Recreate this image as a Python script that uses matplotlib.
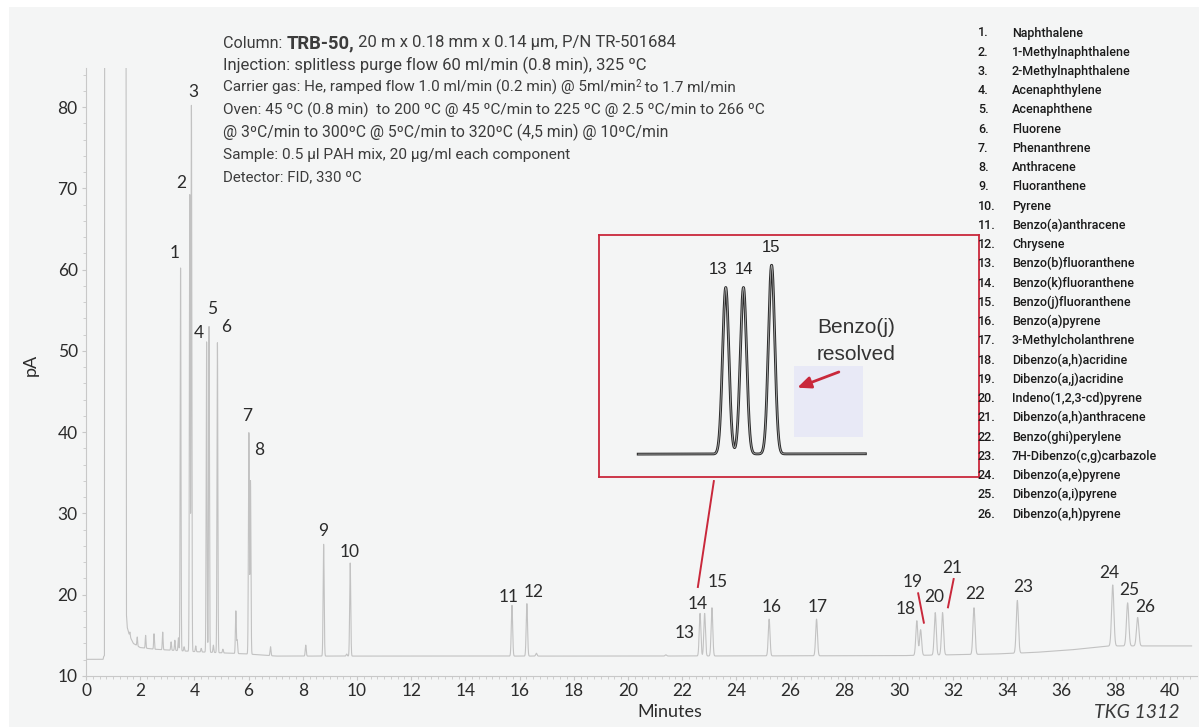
import numpy as np
import matplotlib.pyplot as plt
from matplotlib.patches import Rectangle

W, H = 1199, 727

# ---- data ----
peak_no = list(range(1, 27))
peak_time = [3.49, 3.83, 3.89, 4.45, 4.54, 4.85, 6.01, 6.07, 8.77, 9.75,
             15.72, 16.27, 22.66, 22.83, 23.10, 25.21, 26.96, 30.66, 30.80,
             31.34, 31.61, 32.77, 34.37, 37.89, 38.44, 38.81]
peak_top = [60.2, 69.2, 80.2, 51.1, 53.0, 51.0, 39.9, 34.0, 26.2, 23.9,
            18.7, 18.9, 17.7, 17.7, 18.4, 17.0, 17.0, 16.8, 15.7,
            17.8, 17.8, 18.4, 19.3, 21.2, 19.0, 17.2]

# small unnumbered peaks
minor_time = [1.62, 1.89, 2.20, 2.51, 2.83, 3.14, 3.28, 3.41, 3.62, 4.05,
              4.25, 4.70, 5.05, 5.53, 5.58, 6.81, 8.11, 9.62, 16.62, 21.4]
minor_top = [15.4, 14.8, 15.0, 15.2, 15.4, 14.2, 14.4, 14.7, 13.6, 13.7,
             13.4, 13.8, 13.3, 18.0, 14.4, 13.6, 13.8, 12.7, 12.8, 12.6]

# baseline incl. solvent front (off scale between 0.7 and 1.46 min)
base_time = [0, 0.63, 0.65, 0.68, 0.70, 1.46, 1.49, 1.52, 1.60, 1.75, 2.0,
             2.5, 3.0, 4.0, 5.0, 6.0, 7.0, 20.0, 30.0, 33.5, 35.0, 36.3,
             37.8, 41.0]
base_level = [12.05, 12.05, 12.4, 12.5, 200, 200, 17.7, 16.0, 15.0, 14.0,
              13.5, 13.3, 13.2, 13.0, 12.85, 12.7, 12.45, 12.45, 12.5, 12.7,
              12.9, 13.2, 13.7, 13.7]

compounds = ["Naphthalene", "1-Methylnaphthalene", "2-Methylnaphthalene",
             "Acenaphthylene", "Acenaphthene", "Fluorene", "Phenanthrene",
             "Anthracene", "Fluoranthene", "Pyrene", "Benzo(a)anthracene",
             "Chrysene", "Benzo(b)fluoranthene", "Benzo(k)fluoranthene",
             "Benzo(j)fluoranthene", "Benzo(a)pyrene", "3-Methylcholanthrene",
             "Dibenzo(a,h)acridine", "Dibenzo(a,j)acridine",
             "Indeno(1,2,3-cd)pyrene", "Dibenzo(a,h)anthracene",
             "Benzo(ghi)perylene", "7H-Dibenzo(c,g)carbazole",
             "Dibenzo(a,e)pyrene", "Dibenzo(a,i)pyrene", "Dibenzo(a,h)pyrene"]

# label anchor positions (minutes, pA)
label_pos = [(3.28, 62.0), (3.51, 70.6), (3.95, 81.8), (4.17, 52.2), (4.65, 55.1),
             (5.17, 52.9), (5.94, 42.0), (6.38, 37.8), (8.75, 27.8), (9.74, 25.3),
             (15.61, 19.7), (16.53, 20.3), (22.1, 15.3), (22.58, 18.9), (23.32, 21.6),
             (25.31, 18.5), (27.01, 18.5), (30.26, 18.2), (30.52, 21.6), (31.29, 19.7),
             (31.96, 23.3), (32.8, 20.1), (34.58, 20.9), (37.75, 22.7), (38.49, 20.6),
             (39.08, 18.5)]
inset_label_pos = [(22.585, 18.25), (22.84, 18.25), (23.09, 18.95)]

all_time = peak_time + minor_time
all_top = peak_top + minor_top


def signal(t):
    y = np.interp(t, base_time, base_level)
    for tt, top in zip(all_time, all_top):
        b0 = np.interp(tt, base_time, base_level)
        s = 0.012 + 0.0008 * tt
        y = y + (top - b0) * np.exp(-0.5 * ((t - tt) / s) ** 2)
    return y


t = np.linspace(0, 40.8, 60000)
y = signal(t)

bg = "#f4f5f5"
txt = "#2b2b2b"
red = "#c9283b"

fig = plt.figure(figsize=(W / 100, H / 100), dpi=100)
fig.patch.set_facecolor("white")
fig.add_artist(Rectangle((9 / W, 0), 1, 1 - 7 / H, transform=fig.transFigure,
                         facecolor=bg, edgecolor="none", zorder=0))

ax = fig.add_axes([86 / W, 1 - 676 / H, (1197 - 86) / W, (676 - 68) / H])
ax.set_facecolor("none")
ax.plot(t, y, color="#c2c2c2", lw=0.8)
ax.set_xlim(0, 41)
ax.set_ylim(10, 84.8)
for s in ["top", "right"]:
    ax.spines[s].set_visible(False)
for s in ["left", "bottom"]:
    ax.spines[s].set_color("#c8c8c8")
    ax.spines[s].set_linewidth(0.8)
ax.set_xticks(range(0, 41, 2))
ax.set_yticks(range(10, 81, 10))
ax.set_xticks(np.arange(0, 41, 0.25), minor=True)
ax.set_yticks(range(10, 85, 2), minor=True)
ax.tick_params(which="both", color="#c8c8c8", direction="out")
ax.tick_params(which="major", length=3, labelsize=12.5, labelcolor=txt)
ax.tick_params(which="minor", length=2)
ax.tick_params(axis="x", pad=2)
ax.tick_params(axis="y", pad=3)
for lab in ax.get_xticklabels() + ax.get_yticklabels():
    lab.set_fontfamily("Lato")

for n, (lx, ly) in zip(peak_no, label_pos):
    ax.text(lx, ly, str(n), ha="center", va="center", fontsize=12.5,
            family="Lato", color=txt)

# red leader lines
ax.plot([30.71, 30.92], [20.17, 16.56], color=red, lw=1.4, clip_on=False)
ax.plot([32.02, 31.81], [21.93, 18.45], color=red, lw=1.4, clip_on=False)
ax.plot([23.17, 22.58], [33.98, 20.95], color=red, lw=1.4, clip_on=False)

fig.text(31 / W, 1 - 365 / H, "pA", rotation=90, ha="center", va="center",
         fontsize=13, family="Lato", color=txt)
fig.text(670 / W, 1 - 712 / H, "Minutes", ha="center", va="center",
         fontsize=13, family="Lato", color=txt)
fig.text(1180 / W, 1 - 712 / H, "TKG 1312", ha="right", va="center",
         fontsize=14, family="Lato", style="italic", color="#3a3a3a")

# ---- inset ----
ins = fig.add_axes([599 / W, 1 - 477 / H, (979 - 599) / W, (477 - 235) / H])
ins.set_facecolor(bg)
ins.set_xlim(21.444, 25.09)
ins.set_ylim(11.74, 19.35)
ins.set_xticks([])
ins.set_yticks([])
for s in ins.spines.values():
    s.set_color(red)
    s.set_linewidth(1.3)
ti = np.linspace(21.82, 24.0, 3000)
yi = signal(ti)
ins.plot(ti, yi, color="#2a2a2a", lw=2.0)
ins.plot(ti, yi, color="#a8a8a8", lw=0.6)
for n, (lx, ly) in zip((13, 14, 15), inset_label_pos):
    ins.text(lx, ly, str(n), ha="center", va="center", fontsize=12,
             family="Liberation Sans", color="#222222")
ins.add_patch(Rectangle((0.513, 0.167), 0.183, 0.292, transform=ins.transAxes,
                        facecolor="#e8e9f6", edgecolor="none"))
ins.annotate("", xy=(0.515, 0.365), xytext=(0.638, 0.438),
             xycoords="axes fraction", textcoords="axes fraction",
             arrowprops=dict(arrowstyle="-|>,head_length=0.8,head_width=0.35",
                             color=red, lw=2))
ins.text(0.574, 0.616, "Benzo(j)", transform=ins.transAxes, ha="left",
         va="center", fontsize=15, family="Liberation Sans", color="#333333")
ins.text(0.574, 0.508, "resolved", transform=ins.transAxes, ha="left",
         va="center", fontsize=15, family="Liberation Sans", color="#333333")

# ---- conditions block ----
renderer = fig.canvas.get_renderer()


def runs(x, yy, parts):
    # parts: (text, bold, size, raise_px)
    for s, bold, size, dy in parts:
        tx = fig.text(x / W, 1 - (yy - dy) / H, s, ha="left", va="center",
                      fontsize=size, family="Roboto",
                      weight="bold" if bold else "normal", color="#3c3c3c")
        x = tx.get_window_extent(renderer).x1


header = [
    [("Column: ", False, 11.6, 0), ("TRB-50,", True, 13.2, 0),
     (" 20 m x 0.18 mm x 0.14 µm, P/N TR-501684", False, 12.0, 0)],
    [("Injection: splitless purge flow 60 ml/min (0.8 min), 325 ºC", False, 12.0, 0)],
    [("Carrier gas: He, ramped flow 1.0 ml/min (0.2 min) @ 5ml/min", False, 11.0, 0),
     ("2", False, 7, 4), (" to 1.7 ml/min", False, 11.0, 0)],
    [("Oven: 45 ºC (0.8 min)  to 200 ºC @ 45 ºC/min to 225 ºC @ 2.5 ºC/min to 266 ºC", False, 11.1, 0)],
    [("@ 3ºC/min to 300ºC @ 5ºC/min to 320ºC (4,5 min) @ 10ºC/min", False, 11.3, 0)],
    [("Sample: 0.5 µl PAH mix, 20 µg/ml each component", False, 11.1, 0)],
    [("Detector: FID, 330 ºC", False, 10.8, 0)],
]
for i, parts in enumerate(header):
    runs(223, 43 + i * 22.3, parts)

# ---- compound list ----
for i, name in enumerate(compounds):
    yy = 1 - (33 + i * 19.24) / H
    fig.text(978 / W, yy, f"{i + 1}.", ha="left", va="center", fontsize=9,
             family="Roboto", weight="medium", color="#1a1a1a")
    fig.text(1012 / W, yy, name, ha="left", va="center", fontsize=9,
             family="Roboto", weight="medium", color="#1a1a1a")

fig.savefig("out.png", dpi=100)
